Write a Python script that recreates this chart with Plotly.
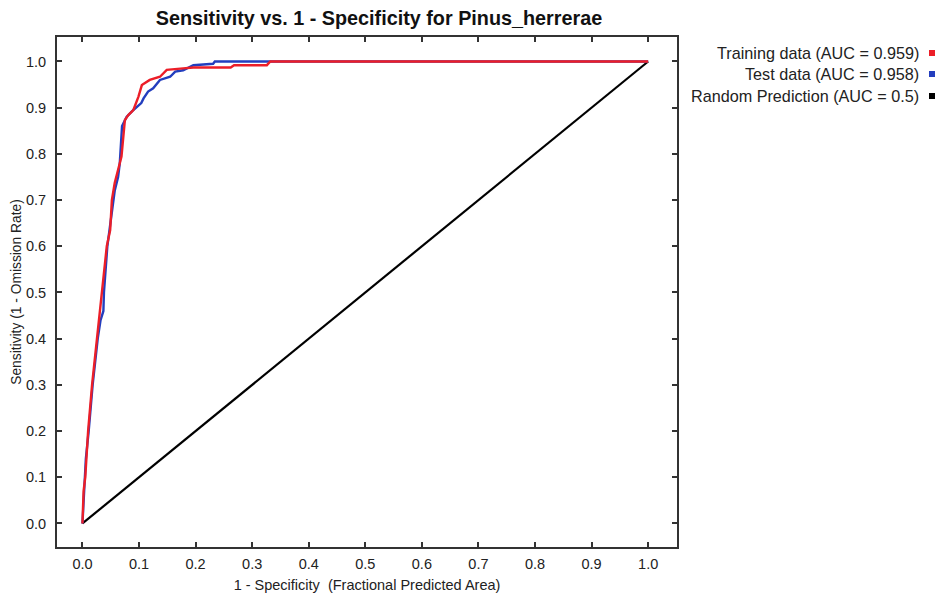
import plotly.graph_objects as go

title_text = "Sensitivity vs. 1 - Specificity for Pinus_herrerae"
x_title = "1 - Specificity  (Fractional Predicted Area)"
y_title = "Sensitivity (1 - Omission Rate)"

legend_labels = ["Training data (AUC = 0.959)", "Test data (AUC = 0.958)", "Random Prediction (AUC = 0.5)"]
series_colors = ["rgb(236,30,40)", "rgb(35,62,190)", "rgb(0,0,0)"]

train_fpr = [0, 0.002, 0.005, 0.010, 0.017, 0.026, 0.034, 0.043, 0.049, 0.052, 0.057, 0.066,
             0.069, 0.075, 0.081, 0.090, 0.099, 0.105, 0.119, 0.137, 0.149, 0.178, 0.196,
             0.262, 0.268, 0.326, 0.332, 1.0]
train_tpr = [0, 0.07, 0.10, 0.20, 0.30, 0.40, 0.50, 0.60, 0.635, 0.70, 0.737, 0.78,
             0.794, 0.873, 0.884, 0.895, 0.924, 0.949, 0.96, 0.967, 0.982, 0.985, 0.987,
             0.987, 0.992, 0.992, 1.0, 1.0]

test_fpr = [0, 0.003, 0.006, 0.011, 0.018, 0.027, 0.032, 0.037, 0.038, 0.044, 0.050, 0.057,
            0.063, 0.066, 0.070, 0.078, 0.090, 0.096, 0.104, 0.108, 0.116, 0.125, 0.137,
            0.155, 0.164, 0.178, 0.196, 0.231, 0.234, 1.0]
test_tpr = [0, 0.07, 0.14, 0.20, 0.30, 0.40, 0.44, 0.46, 0.50, 0.60, 0.66, 0.72,
            0.75, 0.78, 0.86, 0.88, 0.895, 0.902, 0.91, 0.92, 0.935, 0.942, 0.96,
            0.967, 0.978, 0.981, 0.992, 0.995, 1.0, 1.0]

random_x = [0, 1]
random_y = [0, 1]

tick_vals = [0.0, 0.1, 0.2, 0.3, 0.4, 0.5, 0.6, 0.7, 0.8, 0.9, 1.0]
tick_text = ["0.0", "0.1", "0.2", "0.3", "0.4", "0.5", "0.6", "0.7", "0.8", "0.9", "1.0"]

font_family = "Liberation Sans, Arial, sans-serif"

fig = go.Figure()
fig.add_trace(go.Scatter(x=random_x, y=random_y, mode="lines",
                         line=dict(color=series_colors[2], width=2.2), name=legend_labels[2]))
fig.add_trace(go.Scatter(x=test_fpr, y=test_tpr, mode="lines",
                         line=dict(color=series_colors[1], width=2.4), name=legend_labels[1]))
fig.add_trace(go.Scatter(x=train_fpr, y=train_tpr, mode="lines",
                         line=dict(color=series_colors[0], width=2.4), name=legend_labels[0]))

L, R, T, B = 57, 261, 37, 48
W, H = 938, 595
pw = W - L - R
ph = H - T - B

axis_common = dict(
    showgrid=False, zeroline=False, showline=True, linecolor="#333333", linewidth=2,
    mirror="ticks", ticks="inside", ticklen=5, tickwidth=1.5, tickcolor="#333333",
    tickvals=tick_vals, ticktext=tick_text, automargin=False,
    tickfont=dict(family=font_family, size=14.5, color="#222222"),
)

fig.update_layout(
    width=W, height=H,
    margin=dict(l=L, r=R, t=T, b=B, autoexpand=False),
    paper_bgcolor="white", plot_bgcolor="white",
    showlegend=False,
    title=dict(text="<b>" + title_text + "</b>", x=379 / W, xanchor="center",
               y=1 - 18 / H, yanchor="middle",
               font=dict(family=font_family, size=19.8, color="#111111")),
    xaxis=dict(range=[-0.045, 1.051], ticklabelstandoff=3,
               title=dict(text=x_title, standoff=8,
                          font=dict(family=font_family, size=14.5, color="#222222")),
               **axis_common),
    yaxis=dict(range=[-0.051, 1.053], ticklabelstandoff=6,
               title=dict(text=y_title, standoff=1,
                          font=dict(family=font_family, size=13.8, color="#222222")),
               **axis_common),
)

# Custom legend: right-aligned text with small square marker on the right
legend_rows_px = [53, 74, 96]
text_right_px = 921
for label, color, py in zip(legend_labels, series_colors, legend_rows_px):
    yp = (H - B - py) / ph
    fig.add_annotation(xref="paper", yref="paper", x=(text_right_px - L) / pw, y=yp,
                       xanchor="right", yanchor="middle", showarrow=False, text=label,
                       font=dict(family=font_family, size=16.2, color="#222222"))
    fig.add_shape(type="rect", xref="paper", yref="paper",
                  x0=(929 - L) / pw, x1=(935 - L) / pw,
                  y0=yp - 3 / ph, y1=yp + 3 / ph,
                  fillcolor=color, line=dict(width=0))

fig.write_html("out.html")
